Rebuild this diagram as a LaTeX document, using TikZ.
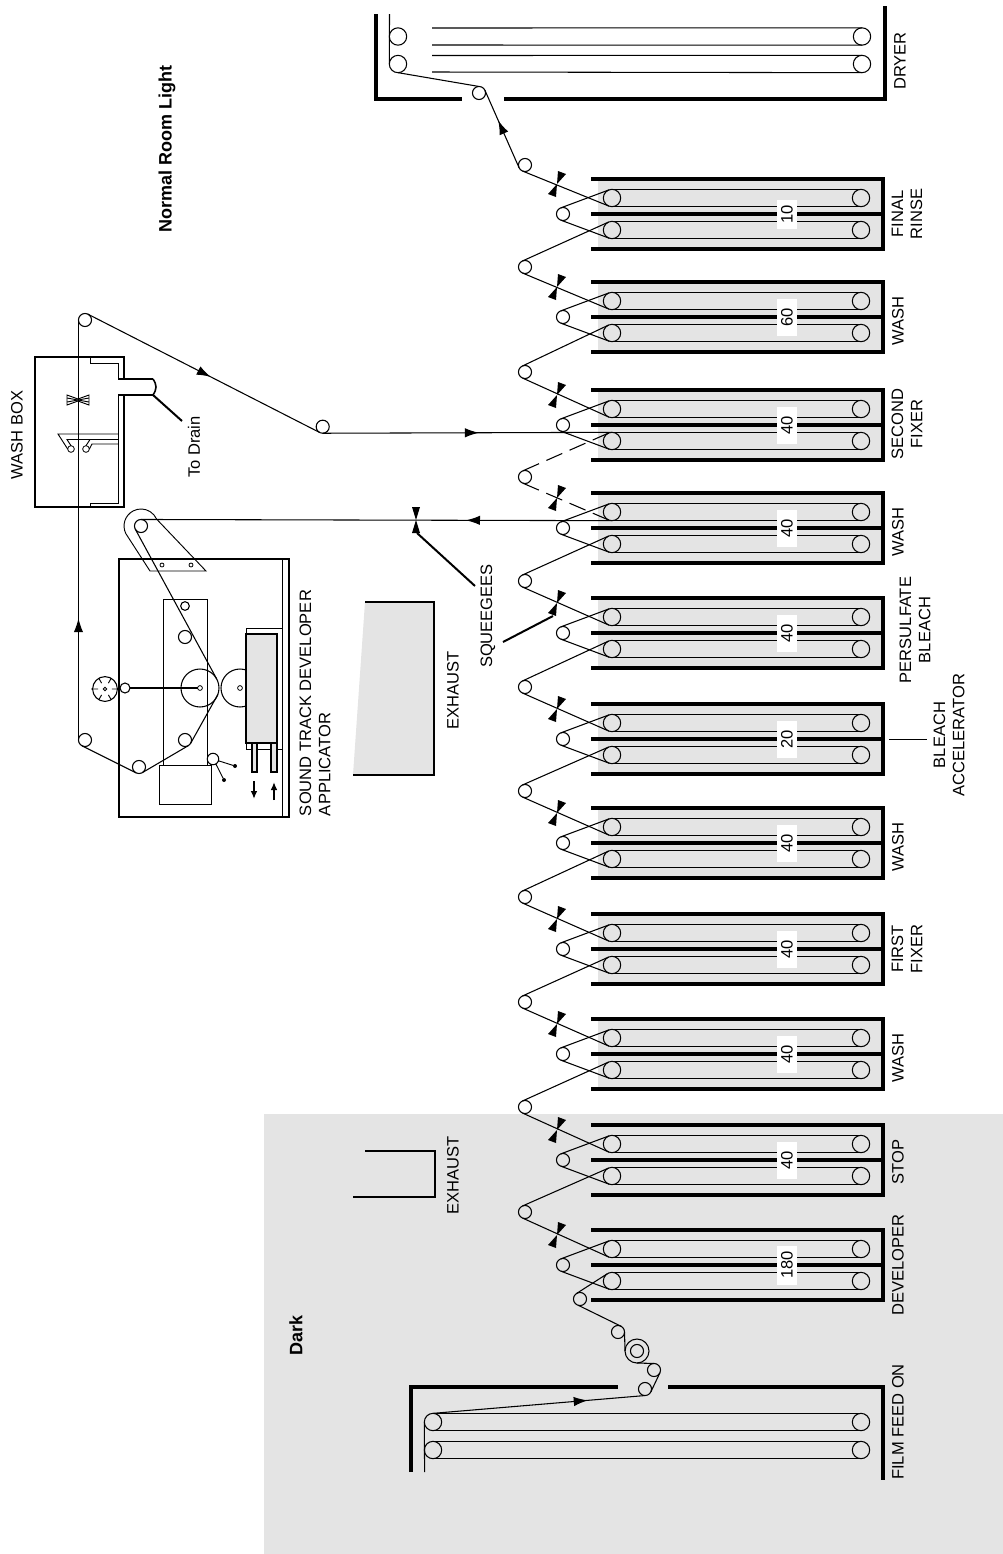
\documentclass[tikz,border=0pt]{standalone}
\usepackage{fontspec}
\setmainfont{Liberation Sans}
\usetikzlibrary{arrows.meta,calc,decorations.markings}

\definecolor{tankgray}{HTML}{E4E4E4}
\tikzset{
  film/.style={line width=0.8pt},
  filmdash/.style={line width=0.8pt,dash pattern=on 13pt off 6pt},
  wall/.style={line width=2.3pt},
  boxwall/.style={line width=1.7pt},
  part/.style={line width=0.7pt},
  heavy/.style={line width=1.5pt},
  roller/.style={circle,draw,line width=0.8pt,inner sep=0pt,outer sep=0pt,minimum size=9.8pt},
  bigroller/.style={roller,minimum size=13pt},
  tinyroller/.style={roller,line width=0.6pt,minimum size=3.6pt},
  pin/.style={circle,fill=black,inner sep=0pt,outer sep=0pt,minimum size=3pt},
  lbl/.style={rotate=90,inner sep=0pt,align=center,font=\fontsize{12.4}{14.4}\selectfont},
  numbox/.style={rotate=90,fill=white,inner sep=0pt,minimum height=15pt,font=\fontsize{12.4}{14.4}\selectfont},
  midarrow/.style={postaction={decorate,decoration={markings,mark=at position #1 with {\arrow{Latex[length=10.5pt,width=7pt]}}}}},
  squeegee/.pic={\fill (0,0) -- (1,-13) -- (9,-10) -- cycle;
                 \fill (0,0) -- (-9,10) -- (-1,13) -- cycle;},
  upsqueegee/.pic={\fill (0,0) -- (-4,-13) -- (4,-13) -- cycle;
                   \fill (0,0) -- (-4,13) -- (4,13) -- cycle;}
}

\begin{document}
\begin{tikzpicture}[x=0.75pt,y=-0.75pt]
  \useasboundingbox (0,0) rectangle (1003,1554);
  \fill[tankgray] (264,1114) rectangle (1003,1554);

  % tanks, in the order the film runs
  \foreach \n/\c/\i/\t/\w in {1/1265/1212/180/39,2/1160/1107/40/37,3/1054/1002/40/37,
      4/949/897/40/37,5/843/791/40/37,6/739/687/20/37,7/633/581/40/37,8/528/477/40/37,
      9/425/372/40/37,10/317/267/60/37,11/214/165/10/29}{
    \fill[tankgray] (598,\c-35) rectangle (883,\c+35);
    \draw[wall] (591,\c-35) -- (883,\c-35) -- (883,\c+35) -- (591,\c+35);
    \draw[wall] (591,\c) -- (883,\c);
    \node[bigroller] (a\n) at (612,\c-16) {};
    \node[bigroller] (b\n) at (612,\c+16) {};
    \node[bigroller] (fa\n) at (861,\c-16) {};
    \node[bigroller] (fb\n) at (861,\c+16) {};
    \node[roller] (sm\n) at (563,\c) {};
    \node[roller] (id\n) at (525,\i) {};
    \draw[film] (a\n.north) -- (fa\n.north);
    \draw[film] (a\n.south) -- (fa\n.south);
    \draw[film] (b\n.north) -- (fb\n.north);
    \draw[film] (b\n.south) -- (fb\n.south);
    \draw[film] (a\n.108) -- (sm\n.108);
    \draw[film] (sm\n.-108) -- (b\n.-108);
    \node[numbox,minimum width=\w*0.75pt] (num\n) at (787,\c) {\t};
  }
  \foreach \n/\c in {1/1265,2/1160,3/1054,4/949,5/843,6/739,7/633,8/528,9/425,10/317,11/214}
    \pic at (557,\c-30) {squeegee};

  % film between the tanks
  \foreach \n/\m/\sty in {1/2/film,2/3/film,3/4/film,4/5/film,5/6/film,6/7/film,7/8/film,8/9/filmdash,9/10/film,10/11/film}
    \draw[\sty] (b\m.113) -- (id\n.113);
  \foreach \n/\sty in {1/film,2/film,3/film,4/film,5/film,6/film,7/film,8/filmdash,9/film,10/film,11/film}
    \draw[\sty] (a\n.-112) -- (id\n.-112);

  % film feed on
  \draw[wall] (411,1472) -- (411,1387) -- (618,1387);
  \draw[wall] (668,1387) -- (883,1387) -- (883,1480);
  \node[bigroller] (ona) at (433,1422) {};
  \node[bigroller] (onb) at (433,1450) {};
  \node[bigroller] (ofa) at (861,1422) {};
  \node[bigroller] (ofb) at (861,1450) {};
  \coordinate (ontail) at (424.6,1472);
  \draw[film] (ona.north) -- (ofa.north);
  \draw[film] (ona.south) -- (ofa.south);
  \draw[film] (onb.north) -- (ofb.north);
  \draw[film] (onb.south) -- (ofb.south);
  \draw[film] (ona.west) -- (ontail);

  \node[roller] (ga) at (580,1299) {};
  \node[roller] (gb) at (618,1332) {};
  \node[circle,draw,line width=0.8pt,inner sep=0pt,outer sep=0pt,minimum size=18pt] (spool) at (637,1351) {};
  \node[roller] (spoolhub) at (637,1351) {};
  \node[roller] (gc) at (654,1370) {};
  \node[roller] (gd) at (645,1389) {};
  \draw[film] (b1.125) -- (ga.125);
  \draw[film] (gb.60) -- (ga.-105);
  \draw[film] (gb.east) -- (spool.west);
  \draw[film] (spool.south) -- (gc.north);
  \draw[film] (gc.-25) -- (gd.-25);
  \draw[film,midarrow=0.73] (ona.north) -- (gd.south);

  % dryer
  \draw[wall] (376,14) -- (376,99) -- (462,99);
  \draw[wall] (504,99) -- (885,99) -- (885,6);
  \node[bigroller] (dra) at (398,36.5) {};
  \node[bigroller] (drb) at (398,64) {};
  \node[bigroller] (dfa) at (862,36.5) {};
  \node[bigroller] (dfb) at (862,64) {};
  \node[roller] (exit) at (479,93) {};
  \coordinate (drtail) at (389.5,14);
  \draw[film] (drb.west) -- (drtail);
  \foreach \k/\y/\r in {1/28/dfa.north,2/45/dfa.south,3/55.5/dfb.north,4/72/dfb.south}{
    \coordinate (dry\k) at (432,\y);
    \draw[film] (dry\k) -- (\r);
  }
  \draw[film,midarrow=0.61] (id11.204) -- (exit.24);
  \draw[film] (exit.north) -- (drb.south);

  % wash box
  \draw[boxwall] (124,379) -- (124,357) -- (35,357) -- (35,507) -- (124,507) -- (124,395);
  \draw[part] (90,357) -- (90,363) -- (118,363) -- (118,379);
  \draw[part] (118,395) -- (118,503) -- (90,503) -- (90,507);
  \draw[boxwall] (118,379) -- (153,379);
  \draw[boxwall] (118,395) -- (153,395);
  \draw[line width=1.2pt] (153,379) .. controls (157,385) and (157,389) .. (153,395);
  \coordinate (drainend) at (182,421);
  \draw[heavy] (153,395) -- (drainend);
  \draw[part] (67,395) -- (78,399) -- (89,395) -- (89,405) -- (78,401) -- (67,405) -- cycle;
  \draw[part] (67,398) -- (78,400) -- (67,402);
  \draw[part] (89,398) -- (78,400) -- (89,402);
  \node[tinyroller,minimum size=5pt] (jeta) at (71,449) {};
  \node[tinyroller,minimum size=5pt] (jetb) at (86,449) {};
  \draw[part] (118,434) -- (58,434) -- (jeta.west);
  \draw[part] (118,439.5) -- (67,439.5) -- (jeta.north);
  \draw[part] (90,439.5) -- (jetb.north);
  \draw[part] (118,444) -- (92,444) -- (jetb.east);

  % sound track applicator
  \draw[boxwall] (119,559) rectangle (289,817);
  \draw[part] (282,559) -- (282,817);
  \draw[part] (163,599) rectangle (207,765);
  \draw[part] (159,765) rectangle (211,804);
  \node[circle,draw,line width=0.8pt,inner sep=0pt,outer sep=0pt,minimum size=28.5pt] (drum) at (200,688) {};
  \node[circle,draw,line width=0.8pt,inner sep=0pt,outer sep=0pt,minimum size=28.5pt] (drumb) at (240,688) {};
  \draw[part,fill=white] (246,628) rectangle (282,749);
  \draw[line width=1pt,fill=tankgray] (246,634) rectangle (277,743);
  \node[tinyroller] (drumbhub) at (240,688) {};
  \node[tinyroller] (hub) at (200,688) {};
  \draw[line width=1.1pt,fill=tankgray] (252,743) rectangle (257,772);
  \draw[line width=1.1pt,fill=tankgray] (271,743) rectangle (277,772);
  \draw[heavy,-{Latex[length=6pt,width=5pt]}] (254,781) -- (254,799);
  \draw[heavy,-{Latex[length=6pt,width=5pt]}] (274,800) -- (274,782);
  \node[roller,minimum size=6.5pt] (upa) at (185,606) {};
  \node[roller] (upb) at (185,637) {};
  \node[roller] (rc) at (185,740) {};
  \node[roller] (rd) at (139,767) {};
  \node[roller] (re) at (85,740) {};
  \node[roller] (rf) at (85,320) {};
  \node[roller] (rg) at (322.7,426.7) {};
  \node[roller,minimum size=8.6pt] (lever) at (213,759) {};
  \node[pin] (levera) at (235,766) {};
  \node[pin] (leverb) at (224,780) {};
  \draw[part] (lever.-18) -- (levera);
  \draw[part] (lever.-60) -- (leverb);
  \node[roller,minimum size=7.5pt] (knob) at (125,688) {};
  \draw[heavy] (knob.east) -- (hub.west);
  \node[circle,draw,line width=0.8pt,inner sep=0pt,outer sep=0pt,minimum size=18.6pt] (wheel) at (105,689) {};
  \node[tinyroller,minimum size=2.6pt] (wheelhub) at (105,689) {};
  \foreach \a in {0,60,120,240,300}
    \draw[part] (wheel.\a) -- ($(wheel)!0.55!(wheel.\a)$);
  \coordinate (wheeltick) at (91,689);
  \draw[part] (wheeltick) -- ($(wheel)!0.55!(wheel.180)$);

  % pivot arm
  \node[roller] (pivot) at (141,526) {};
  \draw[part] (150,571) -- (125.9,533.7) arc (153:336:17) -- (206,571) -- cycle;
  \node[tinyroller,minimum size=3pt] (holea) at (162,565) {};
  \node[tinyroller,minimum size=3pt] (holeb) at (191,565) {};

  % film through the applicator and the wash box
  \draw[film,midarrow=0.31] (a8.south) -- (pivot.north);
  \draw[film] (pivot.208) -- (drum.28);
  \draw[film] (drum.-20) -- (rc.-30);
  \draw[film] (rc.-60) -- (rd.-60);
  \draw[film] (rd.-117) -- (re.-117);
  \draw[film,midarrow=0.29] (re.west) -- (rf.west);
  \draw[film,midarrow=0.53] (rf.63) -- (rg.-117);
  \draw[film,midarrow=0.54] (rg.south) -- (b9.north);

  % squeegees
  \pic at (416,520) {upsqueegee};
  \coordinate (sqa) at (475,586);
  \coordinate (sqb) at (417,533);
  \coordinate (sqc) at (503,642);
  \coordinate (sqd) at (553,616);
  \draw[heavy] (sqa) -- (sqb);
  \draw[heavy] (sqc) -- (sqd);

  % exhausts
  \fill[tankgray] (365,602) -- (434,602) -- (434,775) -- (353,775) -- cycle;
  \draw[line width=1.5pt] (365,602) -- (434,602) -- (434,775) -- (353,775);
  \draw[line width=1.5pt] (365,1151) -- (435,1151) -- (435,1197) -- (353,1197);

  % bleach accelerator tick
  \coordinate (ticka) at (889,739);
  \coordinate (tickb) at (927,739);
  \draw[part] (ticka) -- (tickb);

  \node[lbl] (ldryer) at (900,61) {DRYER};
  \node[lbl] (lrinse) at (907,214) {FINAL\\RINSE};
  \node[lbl] (lwasha) at (898,321) {WASH};
  \node[lbl] (lfixb) at (907,424) {SECOND\\FIXER};
  \node[lbl] (lwashb) at (898,532) {WASH};
  \node[lbl] (lpers) at (915,630) {PERSULFATE\\BLEACH};
  \node[lbl] (lacc) at (949,735) {BLEACH\\ACCELERATOR};
  \node[lbl] (lwashc) at (898,847) {WASH};
  \node[lbl] (lfixa) at (907,949) {FIRST\\FIXER};
  \node[lbl] (lwashd) at (898,1058) {WASH};
  \node[lbl] (lstop) at (898,1162) {STOP};
  \node[lbl] (ldev) at (898,1265) {DEVELOPER};
  \node[lbl] (lfeed) at (898,1422) {FILM FEED ON};
  \node[lbl] (lbox) at (17,435) {WASH BOX};
  \node[lbl] (ldrain) at (194,447) {To Drain};
  \node[lbl,align=left] (lapp) at (315,703) {SOUND TRACK DEVELOPER\\APPLICATOR};
  \node[lbl] (lsqu) at (488,616) {SQUEEGEES};
  \node[lbl] (lexa) at (453,690) {EXHAUST};
  \node[lbl] (lexb) at (453,1175) {EXHAUST};
  \node[lbl,font=\fontsize{13.5}{16}\selectfont\bfseries] (lroom) at (167,149) {Normal Room Light};
  \node[lbl,font=\fontsize{13.5}{16}\selectfont\bfseries] (ldark) at (296,1335) {Dark};
\end{tikzpicture}
\end{document}
